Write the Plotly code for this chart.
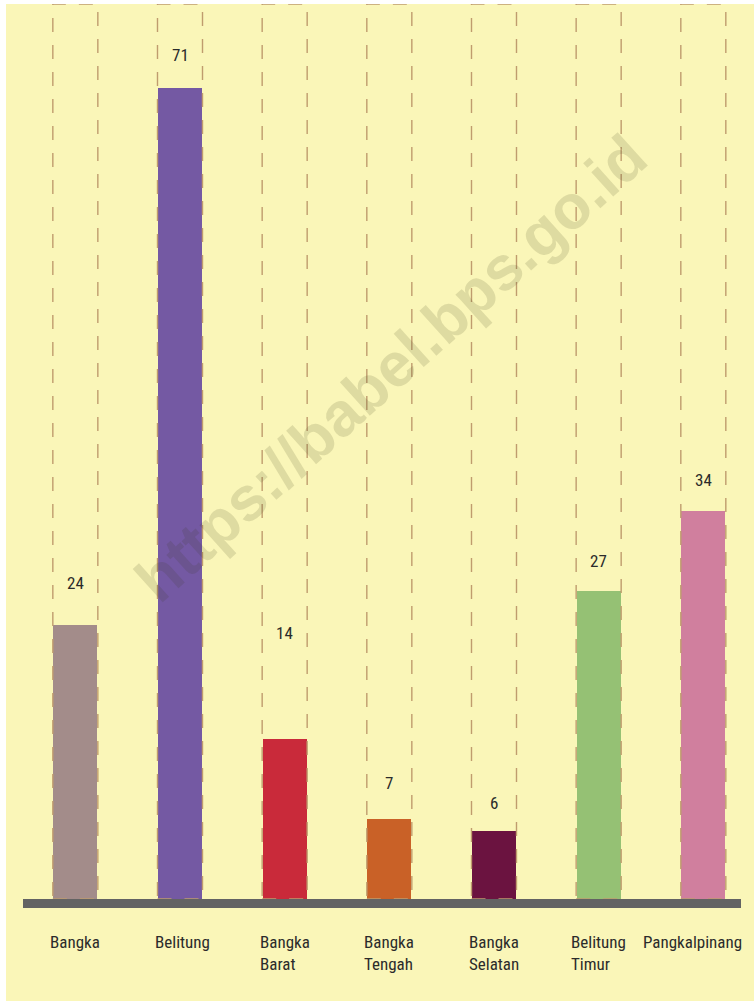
import plotly.graph_objects as go

categories = ["Bangka", "Belitung", "Bangka<br>Barat", "Bangka<br>Tengah", "Bangka<br>Selatan", "Belitung<br>Timur", "Pangkalpinang"]
values = [24, 71, 14, 7, 6, 27, 34]
bar_colors = ["#A38C8A", "#7459A3", "#C92A3A", "#C96127", "#6B1340", "#95C174", "#D07F9E"]
# style: vertical pixel offset of value labels above bars, horizontal shift of category labels
label_yshift = [42, 33, 106, 36, 28, 30, 31]
cat_xshift = [0, 2, 0, 0, 0, 0, -11]

BG = "#FAF6B8"
FONT = "Liberation Sans Narrow, Roboto Condensed, Roboto, sans-serif"
W, H = 754, 1001
L, R, T, B = 23, 13, 4, 102
pw, ph = W - L - R, H - T - B

xs = list(range(len(categories)))
fig = go.Figure()
fig.add_trace(go.Bar(x=xs, y=values, marker=dict(color=bar_colors, line=dict(width=0)),
                     width=0.42, hoverinfo="skip"))

ymax = 78.4
shapes = []
# dashed column frames
for i in xs:
    shapes.append(dict(type="rect", xref="x", yref="y", x0=i - 0.215, x1=i + 0.215, y0=0, y1=ymax,
                       line=dict(color="#BF9C6E", width=1.4, dash="14px,13px"), layer="above"))
# baseline band
shapes.append(dict(type="rect", xref="paper", yref="paper", x0=0, x1=1, y0=0, y1=-9, ysizemode="pixel", yanchor=0,
                   fillcolor="#636363", line=dict(width=0), layer="above"))
# white margins (left and top)
shapes.append(dict(type="rect", xref="paper", yref="paper", x0=-L / pw - 0.01, x1=(6 - L) / pw,
                   y0=-B / ph - 0.01, y1=1 + T / ph + 0.01, fillcolor="white", line=dict(width=0), layer="above"))
shapes.append(dict(type="rect", xref="paper", yref="paper", x0=-L / pw - 0.01, x1=1 + R / pw + 0.01,
                   y0=1, y1=1 + T / ph + 0.01, fillcolor="white", line=dict(width=0), layer="above"))

annotations = []
for i, v in enumerate(values):
    annotations.append(dict(x=i, y=v, xref="x", yref="y", text=str(v), showarrow=False,
                            yanchor="middle", yshift=label_yshift[i],
                            font=dict(family=FONT, size=17, color="#2B2B2B")))
for i, c in enumerate(categories):
    annotations.append(dict(x=i, y=0, xref="x", yref="paper", text=c, showarrow=False,
                            xanchor="center", yanchor="top", align="left", yshift=-31, xshift=cat_xshift[i],
                            font=dict(family=FONT, size=17, color="#2B2B2B")))
# watermark
annotations.append(dict(x=(390 - L) / pw, y=1 - (368 - T) / ph, xref="paper", yref="paper",
                        text="https://babel.bps.go.id", showarrow=False, textangle=-42,
                        font=dict(family="Liberation Sans, Arial, sans-serif", size=62,
                                  color="rgba(60,60,20,0.14)", weight="bold")))

fig.update_layout(
    width=W, height=H, margin=dict(l=L, r=R, t=T, b=B),
    paper_bgcolor=BG, plot_bgcolor=BG, showlegend=False,
    xaxis=dict(range=[-0.5, 6.36], showticklabels=False, showgrid=False, zeroline=False, showline=False, ticks=""),
    yaxis=dict(range=[0, ymax], showticklabels=False, showgrid=False, zeroline=False, showline=False, ticks=""),
    shapes=shapes, annotations=annotations, bargap=0,
)
fig.write_html("out.html", config={"displayModeBar": False},
               post_script="document.body.style.margin='0';document.body.style.overflow='hidden';")
